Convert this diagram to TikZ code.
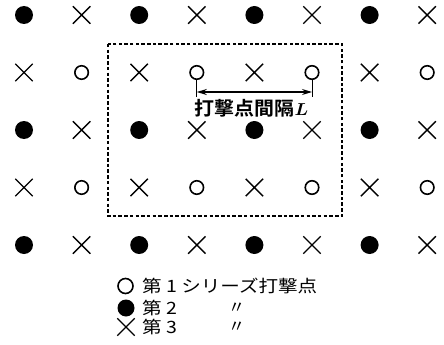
\documentclass[tikz,border=0pt]{standalone}
\usepackage{fontspec}
\newfontfamily\jp{Noto Sans CJK JP}
\newfontfamily\jpb{Noto Sans CJK JP Bold}
\usetikzlibrary{shapes.misc,arrows.meta,calc}
\begin{document}
\begin{tikzpicture}[x=1pt,y=-1pt,
  dotmark/.style={circle,fill=black,inner sep=0pt,minimum size=18pt},
  ringmark/.style={circle,draw=black,line width=1.6pt,inner sep=0pt,minimum size=13.5pt},
  xmark/.style={cross out,draw=black,line width=1.4pt,inner sep=0pt,minimum size=16pt},
  boxline/.style={draw=black,line width=1.5pt,dash pattern=on 3.5pt off 2.2pt},
  tickline/.style={draw=black,line width=0.7pt},
  dimline/.style={draw=black,line width=1.2pt,{Stealth[length=10pt,width=6pt]}-{Stealth[length=10pt,width=6pt]}},
  labeltext/.style={font=\fontsize{19pt}{19pt}\selectfont\jpb,inner sep=0pt},
  legtext/.style={font=\fontsize{17pt}{17pt}\selectfont\jp,inner sep=0pt,anchor=west}]
\useasboundingbox (0,0) rectangle (444,345);
\foreach \j in {0,...,4}{
  \foreach \i in {0,...,7}{
    \pgfmathtruncatemacro\pp{mod(\i+\j,2)}
    \pgfmathtruncatemacro\rr{mod(\j,2)}
    \ifnum\pp=1
      \node[xmark] (m-\i-\j) at ({24+57.6*\i},{15+57.5*\j}) {};
    \else\ifnum\rr=0
      \node[dotmark] (m-\i-\j) at ({24+57.6*\i},{15+57.5*\j}) {};
    \else
      \node[ringmark] (m-\i-\j) at ({24+57.6*\i},{15+57.5*\j}) {};
    \fi\fi
  }
}
% dashed region
\draw[boxline] (108,44) rectangle (342,216);
% spacing dimension
\coordinate (tl) at ($(m-3-1)+(0,24)$);
\coordinate (tr) at ($(m-5-1)+(0,24)$);
\draw[tickline] (m-3-1.south) -- (tl);
\draw[tickline] (m-5-1.south) -- (tr);
\coordinate (al) at ($(m-3-1)+(0,19.5)$);
\coordinate (ar) at ($(m-5-1)+(0,19.5)$);
\draw[dimline] (al) -- (ar);
\node[labeltext] (lab) at (251.5,108.5) {\scalebox{1.05}[1]{打撃点間隔{\boldmath$L$}}};
% legend
\node[ringmark,minimum size=15pt] (k1) at (125.5,286) {};
\node[dotmark,minimum size=17pt] (k2) at (126,308) {};
\node[xmark,minimum size=16pt] (k3) at (126,327) {};
\node[legtext] (t1) at (142,286) {\scalebox{1.15}[1]{第 1 シリーズ打撃点}};
\node[legtext] (t2) at (142,308) {\scalebox{1.15}[1]{第 2}};
\node[legtext] (t3) at (142,327) {\scalebox{1.15}[1]{第 3}};
\node[legtext] (d2) at (228,308) {〃};
\node[legtext] (d3) at (228,327) {〃};
\end{tikzpicture}
\end{document}
